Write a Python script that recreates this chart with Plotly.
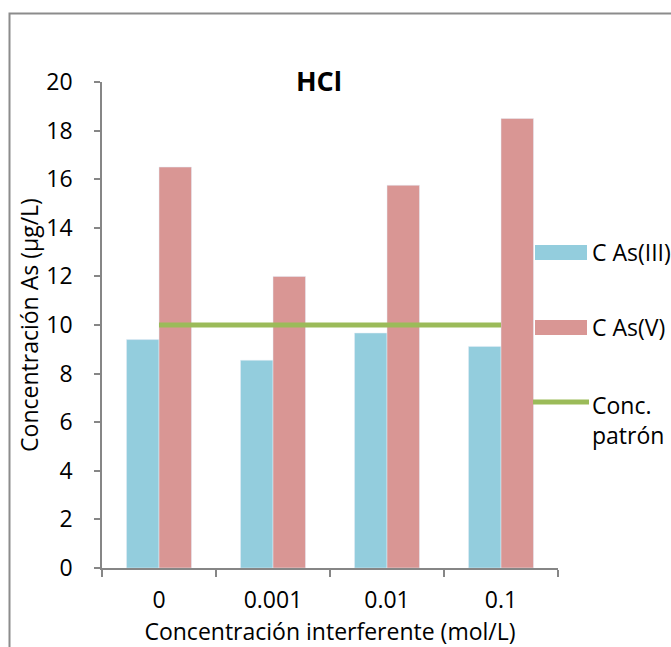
import plotly.graph_objects as go

# Interfering HCl concentration (mol/L) and measured arsenic (µg/L)
categories = ["0", "0.001", "0.01", "0.1"]
as_iii = [9.4, 8.55, 9.67, 9.12]
as_v = [16.5, 12.0, 15.75, 18.5]
standard = [10, 10, 10, 10]
y_ticks = [0, 2, 4, 6, 8, 10, 12, 14, 16, 18, 20]

BLUE = "#93CDDD"
RED = "#D99694"
GREEN = "#9BBB59"
AXIS = "#868686"
FONT = "Open Sans"
FS = 23

W, H = 671, 647
L, R, T, B = 102, 113, 82, 79
PW, PH = W - L - R, H - T - B


def px(x):
    return (x - L) / PW


def py(y):
    return (H - B - y) / PH


fig = go.Figure()
fig.add_trace(go.Bar(x=categories, y=as_iii, name="C As(III)", marker_color=BLUE,
                     showlegend=False))
fig.add_trace(go.Bar(x=categories, y=as_v, name="C As(V)", marker_color=RED,
                     showlegend=False))
fig.add_trace(go.Scatter(x=categories, y=standard, name="Conc. patrón", mode="lines",
                         line=dict(color=GREEN, width=5), showlegend=False))

shapes = [
    # outer chart frame (right and bottom edges run past the page)
    dict(type="rect", xref="paper", yref="paper", x0=px(9.5), x1=px(690),
         y0=py(680), y1=py(13.5), line=dict(color="#8C8C8C", width=2), layer="below"),
    # legend keys
    dict(type="rect", xref="paper", yref="paper", x0=px(535), x1=px(587),
         y0=py(260), y1=py(245), fillcolor=BLUE, line=dict(width=0)),
    dict(type="rect", xref="paper", yref="paper", x0=px(535), x1=px(587),
         y0=py(335), y1=py(320), fillcolor=RED, line=dict(width=0)),
    dict(type="line", xref="paper", yref="paper", x0=px(533), x1=px(589),
         y0=py(402), y1=py(402), line=dict(color=GREEN, width=5)),
]

legend_font = dict(family=FONT, size=FS, color="#000000")
annotations = [
    dict(text="C As(III)", x=px(590), y=py(252), xref="paper", yref="paper",
         xanchor="left", yanchor="middle", showarrow=False, font=legend_font),
    dict(text="C As(V)", x=px(590), y=py(327), xref="paper", yref="paper",
         xanchor="left", yanchor="middle", showarrow=False, font=legend_font),
    dict(text="Conc.<br>patrón", x=px(590), y=py(420), xref="paper", yref="paper",
         xanchor="left", yanchor="middle", align="left", showarrow=False,
         font=legend_font),
]

fig.update_layout(
    width=W, height=H,
    margin=dict(l=L, r=R, t=T, b=B),
    paper_bgcolor="white", plot_bgcolor="white",
    barmode="group", bargap=0.43, bargroupgap=0,
    font=dict(family=FONT, size=FS, color="#000000"),
    title=dict(text="<b>HCl</b>", x=px(319), xref="paper", xanchor="center",
               y=1 - 82 / H, yanchor="middle",
               font=dict(family=FONT, size=27, color="#000000")),
    shapes=shapes,
    annotations=annotations,
    showlegend=False,
)

fig.update_xaxes(
    type="category", showline=True, linecolor=AXIS, linewidth=1.5,
    ticks="outside", tickson="boundaries", ticklen=7, tickcolor=AXIS, tickwidth=1.5,
    showgrid=False, ticklabelstandoff=11,
    tickfont=dict(family=FONT, size=FS),
    title=dict(text="Concentración interferente (mol/L)", standoff=5,
               font=dict(family=FONT, size=FS)),
)
fig.update_yaxes(
    range=[0, 20], tickvals=y_ticks, showline=True, linecolor=AXIS, linewidth=1.5,
    ticks="outside", ticklen=6, tickcolor=AXIS, tickwidth=1.5,
    showgrid=False, zeroline=False, ticklabelstandoff=17,
    tickfont=dict(family=FONT, size=FS),
    title=dict(text="Concentración As (µg/L)", standoff=1,
               font=dict(family=FONT, size=FS)),
)

fig.write_html("out.html")
